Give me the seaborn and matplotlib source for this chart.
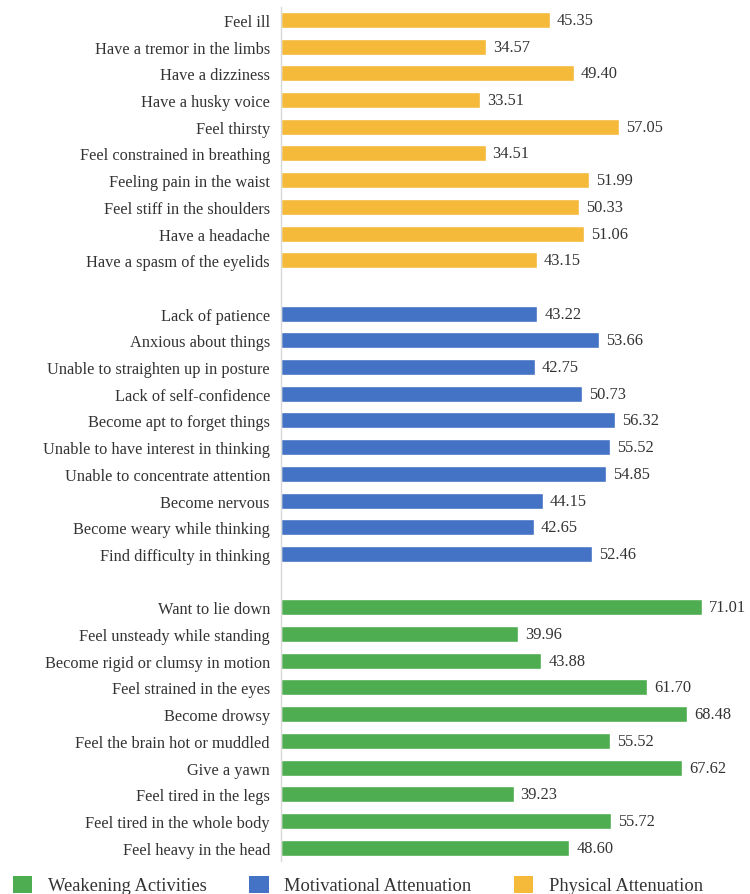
import pandas as pd
import seaborn as sns
from matplotlib import pyplot as plt
from matplotlib.patches import Patch

# symptom labels and mean scores, top to bottom
physical = ['Feel ill', 'Have a tremor in the limbs', 'Have a dizziness', 'Have a husky voice',
            'Feel thirsty', 'Feel constrained in breathing', 'Feeling pain in the waist',
            'Feel stiff in the shoulders', 'Have a headache', 'Have a spasm of the eyelids']
physical_vals = [45.35, 34.57, 49.40, 33.51, 57.05, 34.51, 51.99, 50.33, 51.06, 43.15]

motivational = ['Lack of patience', 'Anxious about things', 'Unable to straighten up in posture',
                'Lack of self-confidence', 'Become apt to forget things',
                'Unable to have interest in thinking', 'Unable to concentrate attention',
                'Become nervous', 'Become weary while thinking', 'Find difficulty in thinking']
motivational_vals = [43.22, 53.66, 42.75, 50.73, 56.32, 55.52, 54.85, 44.15, 42.65, 52.46]

weakening = ['Want to lie down', 'Feel unsteady while standing', 'Become rigid or clumsy in motion',
             'Feel strained in the eyes', 'Become drowsy', 'Feel the brain hot or muddled',
             'Give a yawn', 'Feel tired in the legs', 'Feel tired in the whole body',
             'Feel heavy in the head']
weakening_vals = [71.01, 39.96, 43.88, 61.70, 68.48, 55.52, 67.62, 39.23, 55.72, 48.60]

groups = ['Weakening Activities', 'Motivational Attenuation', 'Physical Attenuation']
colors = {'Weakening Activities': '#4EAD50',
          'Motivational Attenuation': '#4472C4',
          'Physical Attenuation': '#F5BA3A'}

df = pd.concat([
    pd.DataFrame({'label': physical, 'value': physical_vals, 'group': 'Physical Attenuation'}),
    pd.DataFrame({'label': motivational, 'value': motivational_vals, 'group': 'Motivational Attenuation'}),
    pd.DataFrame({'label': weakening, 'value': weakening_vals, 'group': 'Weakening Activities'}),
])

# blank slots between the groups
order = physical + [' '] + motivational + ['  '] + weakening

sns.set_style('white')
plt.rcParams['font.family'] = ['Liberation Serif', 'DejaVu Serif']

fig = plt.figure(figsize=(7.5, 8.95), dpi=100)
ax = fig.add_axes([281 / 750, 33 / 895, 0.9914 - 281 / 750, (862 - 7.6) / 895])

sns.barplot(data=df, x='value', y='label', hue='group', order=order,
            palette=colors, saturation=1, dodge=False, width=0.6, legend=False, ax=ax)

for c in ax.containers:
    ax.bar_label(c, fmt='%.2f', padding=5, fontsize=11.8, color='#333333')

ax.set_xlim(0, 78)
ax.set_ylim(len(order) - 0.5, -0.5)
ax.set_xlabel('')
ax.set_ylabel('')
ax.set_xticks([])
ax.tick_params(axis='y', length=0, pad=8, labelsize=11.8, labelcolor='#333333')

for s in ['top', 'right', 'bottom']:
    ax.spines[s].set_visible(False)
ax.spines['left'].set_color('#D9D9D9')
ax.spines['left'].set_linewidth(1.0)

handles = [Patch(facecolor=colors[g], edgecolor='none', label=g) for g in groups]
fig.legend(handles=handles, loc='center left', bbox_to_anchor=(13 / 750, 9 / 895),
           ncol=3, frameon=False, fontsize=13.3, borderpad=0, borderaxespad=0,
           handlelength=1.05, handleheight=1.05, columnspacing=2.3, handletextpad=0.85,
           labelcolor='#333333')

fig.savefig('out.png', dpi=100)
